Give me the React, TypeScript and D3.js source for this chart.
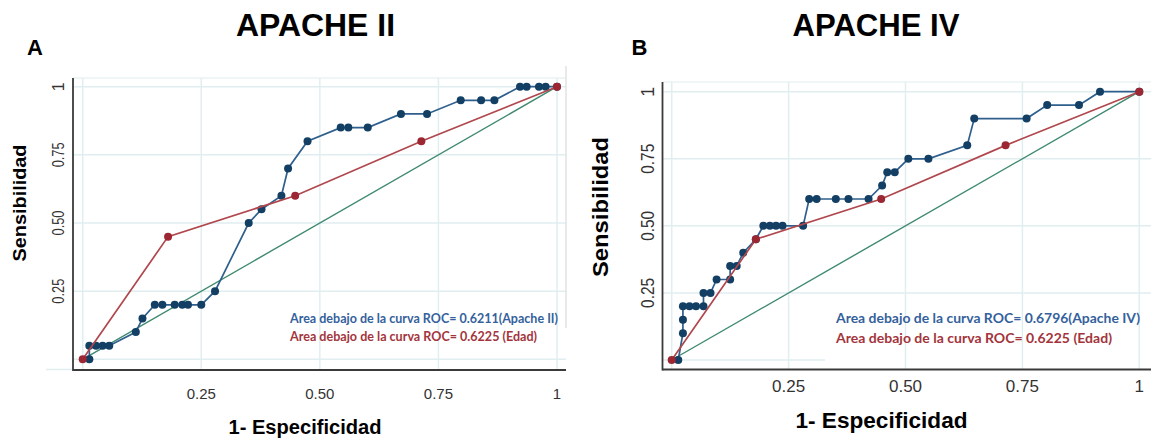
import React from 'react';
import * as d3 from 'd3';

// ROC points (1 - especificidad, sensibilidad)
const apache2X = [0.014, 0.014, 0.028, 0.042, 0.056, 0.112, 0.126, 0.152, 0.168, 0.194, 0.21, 0.222, 0.25, 0.279, 0.35, 0.377, 0.419, 0.433, 0.474, 0.544, 0.56, 0.601, 0.671, 0.726, 0.797, 0.84, 0.868, 0.922, 0.936, 0.962, 0.976, 1];
const apache2Y = [0, 0.05, 0.05, 0.05, 0.05, 0.1, 0.15, 0.2, 0.2, 0.2, 0.2, 0.2, 0.2, 0.25, 0.5, 0.55, 0.6, 0.7, 0.8, 0.85, 0.85, 0.85, 0.9, 0.9, 0.95, 0.95, 0.95, 1, 1, 1, 1, 1];

const apache4X = [0.014, 0.024, 0.024, 0.024, 0.038, 0.052, 0.068, 0.068, 0.083, 0.096, 0.125, 0.125, 0.139, 0.153, 0.18, 0.196, 0.21, 0.223, 0.237, 0.281, 0.294, 0.31, 0.351, 0.378, 0.421, 0.45, 0.461, 0.477, 0.506, 0.549, 0.632, 0.647, 0.759, 0.803, 0.871, 0.916, 1];
const apache4Y = [0, 0.1, 0.15, 0.2, 0.2, 0.2, 0.2, 0.25, 0.25, 0.3, 0.3, 0.35, 0.35, 0.4, 0.45, 0.5, 0.5, 0.5, 0.5, 0.5, 0.6, 0.6, 0.6, 0.6, 0.6, 0.65, 0.7, 0.7, 0.75, 0.75, 0.8, 0.9, 0.9, 0.95, 0.95, 1, 1];

const edadX = [0, 0.18, 0.448, 0.714, 1];
const edadY = [0, 0.45, 0.6, 0.8, 1];

const diagonal = [0, 1];
const gridValues = [0, 0.25, 0.5, 0.75, 1];
const tickValues = [0.25, 0.5, 0.75, 1];
const tickLabels = ['0.25', '0.50', '0.75', '1'];

const legendEdad = 'Area debajo de la curva ROC= 0.6225 (Edad)';

const BLUE_LINE = '#2f5f8c';
const BLUE_DOT = '#123f63';
const RED_LINE = '#b0474d';
const RED_DOT = '#9c2733';
const GREEN = '#3f8a70';
const GRID = '#e1eef0';
const AXIS = '#3a3a3a';

const toPoints = (xs: number[], ys: number[]) => xs.map((x, i) => ({ x, y: ys[i] }));

type PanelProps = {
  title: string;
  letter: string;
  blueX: number[];
  blueY: number[];
  blueLegend: string;
  g: any;
};

const Panel = ({ title, letter, blueX, blueY, blueLegend, g }: PanelProps) => {
  const x = d3.scaleLinear().domain([0, 1]).range([g.x0, g.x1]);
  const y = d3.scaleLinear().domain([0, 1]).range([g.y0, g.y1]);
  const line = d3
    .line<{ x: number; y: number }>()
    .x((d) => x(d.x))
    .y((d) => y(d.y));

  const blue = toPoints(blueX, blueY);
  const red = toPoints(edadX, edadY);
  const diag = toPoints(diagonal, diagonal);

  return (
    <g>
      {/* titles */}
      <text x={g.titleX} y={36} textAnchor="middle" fontFamily="Liberation Sans, Arial, sans-serif" fontWeight="bold" fontSize={31.5} textLength={g.titleLen} lengthAdjust="spacingAndGlyphs">
        {title}
      </text>
      <text x={g.letterX} y={55} fontFamily="Liberation Sans, Arial, sans-serif" fontWeight="bold" fontSize={22}>
        {letter}
      </text>

      {/* grid */}
      {gridValues.map((v) => (
        <line key={'gx' + v} x1={x(v)} x2={x(v)} y1={g.top} y2={g.axisY} stroke={GRID} strokeWidth={1.5} />
      ))}
      {gridValues.map((v) => (
        <line key={'gy' + v} x1={g.axisX} x2={v === 0 ? g.zeroGridEnd : g.right} y1={y(v)} y2={y(v)} stroke={GRID} strokeWidth={1.5} />
      ))}
      <line x1={g.axisX} x2={g.right} y1={g.top} y2={g.top} stroke={GRID} strokeWidth={1.2} />
      {g.rightBorder && <line x1={g.right} x2={g.right} y1={g.top - 12} y2={g.yBorderEnd} stroke="#e2e2e2" strokeWidth={1.5} />}
      <line x1={g.stubX} x2={g.axisX} y1={g.axisY - 0.5} y2={g.axisY - 0.5} stroke={GRID} strokeWidth={1.5} />

      {/* axes */}
      <line x1={g.axisX} x2={g.axisX} y1={g.top} y2={g.axisY + 1} stroke={AXIS} strokeWidth={1.8} />
      <line x1={g.axisX} x2={g.axisEnd} y1={g.axisY} y2={g.axisY} stroke={AXIS} strokeWidth={1.8} />

      {/* tick labels */}
      {tickValues.map((v, i) => (
        <text key={'tx' + v} x={x(v)} y={g.xLabelY} textAnchor="middle" fontFamily="Liberation Sans, Arial, sans-serif" fontSize={g.xLabelSize} fill="#333">
          {tickLabels[i]}
        </text>
      ))}
      {tickValues.map((v, i) => (
        <text
          key={'ty' + v}
          transform={`translate(${g.yLabelX},${y(v)}) rotate(-90)`}
          textAnchor="middle"
          fontFamily="Liberation Sans, Arial, sans-serif"
          fontSize={g.yLabelSize}
          fill="#333"
          textLength={tickLabels[i].length > 1 ? g.yLabelLen : undefined}
          lengthAdjust="spacingAndGlyphs"
        >
          {tickLabels[i]}
        </text>
      ))}

      {/* axis titles */}
      <text x={g.xTitleX} y={g.xTitleY} textAnchor="middle" fontFamily="Liberation Sans, Arial, sans-serif" fontWeight="bold" fontSize={g.xTitleSize} textLength={g.xTitleLen} lengthAdjust="spacingAndGlyphs">
        1- Especificidad
      </text>
      <text
        transform={`translate(${g.yTitleX},${g.yTitleY}) rotate(-90)`}
        textAnchor="middle"
        fontFamily="Liberation Sans, Arial, sans-serif"
        fontWeight="bold"
        fontSize={g.yTitleSize}
        textLength={g.yTitleLen}
        lengthAdjust="spacingAndGlyphs"
      >
        Sensibilidad
      </text>

      {/* reference diagonal */}
      <path d={line(diag) || ''} fill="none" stroke={GREEN} strokeWidth={1.4} />

      {/* Apache curve */}
      <path d={line(blue) || ''} fill="none" stroke={BLUE_LINE} strokeWidth={1.7} />
      {blue.map((d, i) => (
        <circle key={'b' + i} cx={x(d.x)} cy={y(d.y)} r={4} fill={BLUE_DOT} />
      ))}

      {/* Edad curve */}
      <path d={line(red) || ''} fill="none" stroke={RED_LINE} strokeWidth={1.7} />
      {red.map((d, i) => (
        <circle key={'r' + i} cx={x(d.x)} cy={y(d.y)} r={4} fill={RED_DOT} />
      ))}

      {/* legend text */}
      <text x={g.legendX} y={323} fontFamily="Lato, Open Sans, sans-serif" fontWeight="bold" fontSize={g.legendSize} fill="#34619c" textLength={g.legendBlueLen} lengthAdjust="spacingAndGlyphs">
        {blueLegend}
      </text>
      <text x={g.legendX} y={g.legendRedY} fontFamily="Lato, Open Sans, sans-serif" fontWeight="bold" fontSize={g.legendSize} fill="#a3343c" textLength={g.legendRedLen} lengthAdjust="spacingAndGlyphs">
        {legendEdad}
      </text>
    </g>
  );
};

const leftGeom = {
  x0: 82.7, x1: 557, y0: 359.3, y1: 86.7,
  axisX: 73, axisY: 370, axisEnd: 566, top: 78, right: 566, zeroGridEnd: 566, stubX: 46,
  rightBorder: true, yBorderEnd: 328,
  titleX: 315.5, titleLen: 159, letterX: 27,
  xLabelY: 399, xLabelSize: 15, yLabelX: 63.5, yLabelSize: 16, yLabelLen: 25,
  xTitleX: 305, xTitleY: 434, xTitleSize: 20, xTitleLen: 153,
  yTitleX: 25.5, yTitleY: 203, yTitleSize: 19, yTitleLen: 117,
  legendX: 290, legendSize: 12.5, legendBlueLen: 268, legendRedLen: 247, legendRedY: 341
};

const rightGeom = {
  x0: 671.7, x1: 1139.3, y0: 360, y1: 91.7,
  axisX: 662.5, axisY: 369.5, axisEnd: 1151, top: 82, right: 1151, zeroGridEnd: 825, stubX: 662.5,
  rightBorder: false, yBorderEnd: 0,
  titleX: 876, titleLen: 167, letterX: 631.5,
  xLabelY: 392, xLabelSize: 17, yLabelX: 653.5, yLabelSize: 18, yLabelLen: 30,
  xTitleX: 881.5, xTitleY: 428, xTitleSize: 22.5, xTitleLen: 172,
  yTitleX: 608, yTitleY: 207, yTitleSize: 22, yTitleLen: 140,
  legendX: 836, legendSize: 14, legendBlueLen: 304, legendRedLen: 276, legendRedY: 343
};

const App = () => {
  return (
    <svg width={1151} height={440} style={{ position: 'absolute', left: 0, top: 0, background: '#fff' }}>
      <rect width={1151} height={440} fill="#fff" />
      <Panel title="APACHE II" letter="A" blueX={apache2X} blueY={apache2Y} blueLegend="Area debajo de la curva ROC= 0.6211(Apache II)" g={leftGeom} />
      <Panel title="APACHE IV" letter="B" blueX={apache4X} blueY={apache4Y} blueLegend="Area debajo de la curva ROC= 0.6796(Apache IV)" g={rightGeom} />
    </svg>
  );
};

export default App;
